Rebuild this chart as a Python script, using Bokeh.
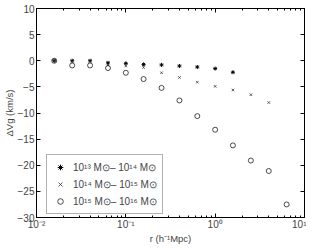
from bokeh.plotting import figure
from bokeh.models import (LogAxis, LinearAxis, Legend, LegendItem, FixedTicker,
                          CustomJSTickFormatter, Range1d, LogTicker)
from bokeh.embed import file_html
from bokeh.resources import INLINE

r_all = [0.0158, 0.0251, 0.0398, 0.0631, 0.1, 0.158, 0.251, 0.398, 0.631,
         1.0, 1.58, 2.51, 3.98, 6.31]
dv_13_14 = [0.0, 0.0, 0.0, -0.4, -0.5, -0.7, -0.8, -1.0, -1.2, -1.5, -2.2]
dv_14_15 = [0.0, -0.1, -0.1, -0.8, -1.0, -1.3, -2.3, -3.2, -4.1, -4.9, -5.6,
            -6.5, -8.0]
dv_15_16 = [0.0, -0.9, -0.9, -1.4, -2.3, -3.5, -5.2, -7.6, -10.6, -13.2,
            -16.2, -19.1, -21.1, -27.5]
labels = ["10¹³ M⊙– 10¹⁴ M⊙", "10¹⁴ M⊙– 10¹⁵ M⊙", "10¹⁵ M⊙– 10¹⁶ M⊙"]
y_ticks = [-30, -25, -20, -15, -10, -5, 0, 5, 10]

FONT = "Liberation Sans"

p = figure(frame_width=268, frame_height=209, x_axis_type="log",
           x_range=Range1d(0.01, 10), y_range=Range1d(-30, 10),
           output_backend="svg", toolbar_location=None,
           min_border_left=28, min_border_right=2, min_border_top=8,
           min_border_bottom=20)
p.xgrid.visible = False
p.ygrid.visible = False
p.outline_line_color = "black"

sup = CustomJSTickFormatter(code="""
const m = {'-': '\u207b', '0':'\u2070','1':'\u00b9','2':'\u00b2','3':'\u00b3'};
const e = Math.round(Math.log10(tick));
return '10' + String(e).split('').map(c => m[c]).join('');
""")
yfmt = CustomJSTickFormatter(code="return tick < 0 ? '\u2212' + Math.abs(tick) : String(tick);")

def style(ax):
    ax.major_tick_in = 4
    ax.major_tick_out = 0
    ax.minor_tick_in = 2
    ax.minor_tick_out = 0
    ax.axis_line_color = "black"
    ax.major_tick_line_color = "black"
    ax.minor_tick_line_color = "black"
    ax.major_label_text_font = FONT
    ax.major_label_text_font_size = "10px"
    ax.axis_label_text_font = FONT
    ax.axis_label_text_font_size = "9.5px"
    ax.axis_label_text_font_style = "normal"

xa = p.xaxis[0]
xa.ticker = LogTicker(desired_num_ticks=4, num_minor_ticks=10)
xa.formatter = sup
xa.axis_label = "r (h⁻¹Mpc)"
xa.major_label_standoff = 1
xa.axis_label_standoff = 0
style(xa)

ya = p.yaxis[0]
ya.ticker = FixedTicker(ticks=y_ticks)
ya.formatter = yfmt
ya.axis_label = "ΔVg (km/s)"
ya.major_label_standoff = 2
ya.axis_label_standoff = 0
style(ya)

blank = CustomJSTickFormatter(code="return '';")
top = LogAxis(ticker=LogTicker(desired_num_ticks=4, num_minor_ticks=10), formatter=blank)
style(top)
top.major_label_standoff = 0
top.major_label_text_font_size = "0px"
right = LinearAxis(ticker=FixedTicker(ticks=y_ticks), formatter=blank)
style(right)
right.major_label_standoff = 0
right.major_label_text_font_size = "0px"
p.add_layout(top, "above")
p.add_layout(right, "right")

g1 = p.scatter(r_all[:len(dv_13_14)], dv_13_14, marker="asterisk", size=4,
               line_color="black", line_width=1)
g2 = p.scatter(r_all[:len(dv_14_15)], dv_14_15, marker="x", size=3.5,
               line_color="#333333", line_width=0.8)
g3 = p.scatter(r_all, dv_15_16, marker="circle", size=5,
               line_color="black", fill_color=None, line_width=0.7)

legend = Legend(items=[LegendItem(label=labels[0], renderers=[g1]),
                       LegendItem(label=labels[1], renderers=[g2]),
                       LegendItem(label=labels[2], renderers=[g3])],
                location=(10, 3), label_text_font=FONT,
                label_text_font_size="10px", border_line_color="#666666",
                border_line_width=1, padding=5, spacing=3,
                label_height=14, glyph_height=14, glyph_width=16,
                margin=0, label_standoff=5, background_fill_alpha=1)
p.add_layout(legend, "center")

open("out.html", "w").write(file_html(p, INLINE))
